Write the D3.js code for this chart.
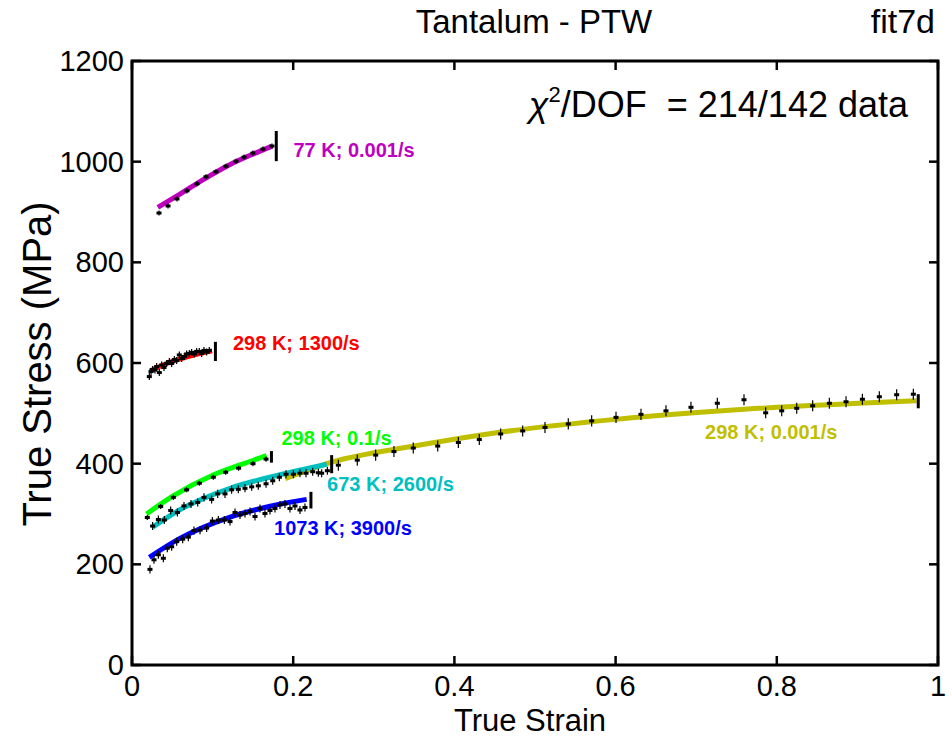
<!DOCTYPE html>
<html><head><meta charset="utf-8">
<script src="https://cdn.jsdelivr.net/npm/d3@7"></script>
<style>html,body{margin:0;padding:0;background:#fff;}text{font-family:"Liberation Sans",Arial,sans-serif;}</style>
</head><body><svg id="c" width="952" height="739"></svg>
<script>
// ---- tick labels ----
const xTicks = [0, 0.2, 0.4, 0.6, 0.8, 1];
const xTickLabels = ["0", "0.2", "0.4", "0.6", "0.8", "1"];
const yTicks = [0, 200, 400, 600, 800, 1000, 1200];
const yTickLabels = ["0", "200", "400", "600", "800", "1000", "1200"];

// ---- series labels and colours ----
const seriesNames = ["77 K; 0.001/s", "298 K; 1300/s", "298 K; 0.1/s", "673 K; 2600/s", "1073 K; 3900/s", "298 K; 0.001/s"];
const seriesColors = ["#bf00bf", "#ff0000", "#00ff00", "#00bfbf", "#0000ff", "#bfbf00"];

// ---- 77 K; 0.001/s ----
const magFitStrain = [0.032, 0.06, 0.09, 0.12, 0.15, 0.174];
const magFitStress = [909, 936, 966, 993, 1015, 1031];
const magDataStrain = [0.0335, 0.0447, 0.0558, 0.0682, 0.0806, 0.0918, 0.1042, 0.1166, 0.129, 0.139, 0.150, 0.1625, 0.1737];
const magDataStress = [898, 912, 926, 942, 956, 970, 980, 991, 1001, 1009, 1017, 1025, 1031];

// ---- 298 K; 1300/s ----
const redFitStrain = [0.0223, 0.04, 0.06, 0.08, 0.0993];
const redFitStress = [584, 597, 608, 617, 624];
const redDataStrain = [0.0215, 0.0236, 0.0256, 0.0285, 0.0306, 0.0339, 0.0368, 0.0397, 0.043, 0.0463, 0.0492, 0.0525, 0.0554, 0.0587, 0.0616, 0.0649, 0.0678, 0.0711, 0.074, 0.0773, 0.0802, 0.0835, 0.0864, 0.0893, 0.0926, 0.0959];
const redDataStress = [573, 583, 587, 586, 593, 581, 596, 591, 599, 603, 599, 607, 605, 616, 609, 613, 618, 619, 621, 618, 623, 623, 619, 625, 622, 625];

// ---- 298 K; 0.1/s ----
const grnFitStrain = [0.018, 0.05, 0.1, 0.135, 0.167];
const grnFitStress = [300, 335, 377, 398, 416];
const grnDataStrain = [0.019, 0.0356, 0.0513, 0.0678, 0.0835, 0.1009, 0.1162, 0.1323, 0.1501, 0.1663];
const grnDataStress = [293, 315, 333, 348, 361, 373, 383, 391, 400, 409];

// ---- 673 K; 2600/s ----
const cyaFitStrain = [0.0256, 0.06, 0.1216, 0.1836, 0.2415];
const cyaFitStress = [274, 309, 351, 378, 399];
const cyaDataStrain = [0.0256, 0.0327, 0.0401, 0.048, 0.0563, 0.0645, 0.0732, 0.0815, 0.0893, 0.0988, 0.1063, 0.1154, 0.1236, 0.1319, 0.1402, 0.1485, 0.1567, 0.1663, 0.1746, 0.1828, 0.1911, 0.2002, 0.2084, 0.2159, 0.2242, 0.2312, 0.2353, 0.2424];
const cyaDataStress = [276, 289, 288, 307, 303, 316, 320, 323, 333, 329, 340, 340, 348, 349, 351, 354, 356, 360, 366, 373, 379, 379, 381, 381, 384, 382, 381, 386];

// ---- 1073 K; 3900/s ----
const bluFitStrain = [0.0215, 0.06, 0.12, 0.17, 0.2167];
const bluFitStress = [214, 252, 293, 315, 329];
const bluDataStrain = [0.0223, 0.0273, 0.0327, 0.0389, 0.0438, 0.0492, 0.0554, 0.0629, 0.0699, 0.0769, 0.0844, 0.0926, 0.0997, 0.1071, 0.1146, 0.1216, 0.1278, 0.134, 0.1402, 0.1464, 0.1526, 0.1588, 0.165, 0.1712, 0.1774, 0.1836, 0.1898, 0.196, 0.2022, 0.2084, 0.2146];
const bluDataStress = [190, 209, 219, 212, 232, 235, 245, 250, 254, 267, 268, 272, 286, 288, 288, 285, 303, 298, 301, 305, 295, 311, 301, 307, 311, 318, 320, 311, 316, 308, 313];

// ---- 298 K; 0.001/s ----
const olvFitStrain = [0.19, 0.25, 0.35, 0.45, 0.6, 0.76, 0.9735];
const olvFitStress = [370, 404, 435, 461, 488, 508, 525];
const olvDataStrain = [0.256, 0.2795, 0.3023, 0.325, 0.349, 0.3793, 0.4049, 0.4309, 0.4574, 0.4847, 0.5124, 0.5413, 0.5703, 0.6005, 0.6315, 0.6625, 0.6935, 0.7262, 0.7593, 0.7862, 0.8061, 0.8247, 0.8445, 0.8652, 0.8859, 0.9062, 0.9272, 0.9487, 0.9694];
const olvDataStress = [397, 407, 417, 424, 431, 435, 442, 448, 459, 465, 472, 479, 485, 492, 498, 505, 512, 520, 527, 501, 505, 510, 515, 520, 523, 528, 533, 537, 538];

// ---- error bar half-widths (MPa) ----
const errorHalf = [5, 7, 5, 8, 8, 11];
// ---- end markers: strain, low stress, high stress ----
const markerStrain = [0.179, 0.1035, 0.173, 0.2477, 0.222, 0.9755];
const markerLow = [1001, 604, 402, 381, 311, 510];
const markerHigh = [1061, 642, 425, 417, 344, 538];
// ---- label anchors (strain, stress at baseline) ----
const labelStrain = [0.2003, 0.1253, 0.1855, 0.2420, 0.1762, 0.7110];
const labelStress = [1009, 626, 437, 346, 258, 450];

const fitsX = [magFitStrain, redFitStrain, grnFitStrain, cyaFitStrain, bluFitStrain, olvFitStrain];
const fitsY = [magFitStress, redFitStress, grnFitStress, cyaFitStress, bluFitStress, olvFitStress];
const dataX = [magDataStrain, redDataStrain, grnDataStrain, cyaDataStrain, bluDataStrain, olvDataStrain];
const dataY = [magDataStress, redDataStress, grnDataStress, cyaDataStress, bluDataStress, olvDataStress];

const series = seriesNames.map((n, i) => ({
  name: n, color: seriesColors[i],
  fit: fitsX[i].map((x, j) => [x, fitsY[i][j]]),
  data: dataX[i].map((x, j) => [x, dataY[i][j]]),
  err: errorHalf[i], mx: markerStrain[i], mlo: markerLow[i], mhi: markerHigh[i],
  lx: labelStrain[i], ly: labelStress[i]
}));

const L = 132, R = 938, T = 61, B = 665;
const svg = d3.select("#c");
const x = d3.scaleLinear().domain([0, 1]).range([L, R]);
const y = d3.scaleLinear().domain([0, 1200]).range([B, T]);

// draw order: olive below cyan
const order = [5, 0, 1, 2, 3, 4];
const line = d3.line().x(d => x(d[0])).y(d => y(d[1])).curve(d3.curveMonotoneX);
const g = svg.append("g");
order.forEach(i => {
  const s = series[i];
  g.append("path").attr("d", line(s.fit)).attr("fill", "none")
    .attr("stroke", s.color).attr("stroke-width", 5).attr("stroke-linecap", "butt");
});
order.forEach(i => {
  const s = series[i];
  const pg = g.append("g");
  s.data.forEach(d => {
    pg.append("line").attr("x1", x(d[0])).attr("x2", x(d[0]))
      .attr("y1", y(d[1] - s.err)).attr("y2", y(d[1] + s.err))
      .attr("stroke", "#000").attr("stroke-width", 1.2);
    pg.append("rect").attr("x", x(d[0]) - 2.5).attr("y", y(d[1]) - 1.5)
      .attr("width", 5).attr("height", 3).attr("fill", "#000");
  });
  g.append("line").attr("x1", x(s.mx)).attr("x2", x(s.mx))
    .attr("y1", y(s.mlo)).attr("y2", y(s.mhi))
    .attr("stroke", "#000").attr("stroke-width", 3);
  g.append("text").attr("x", x(s.lx)).attr("y", y(s.ly))
    .attr("fill", s.color).attr("font-size", 20).attr("font-weight", "bold").text(s.name);
});

// axes (box with inward ticks)
const tickLen = 9;
const ax = svg.append("g");
ax.append("rect").attr("x", L).attr("y", T).attr("width", R - L).attr("height", B - T)
  .attr("fill", "none").attr("stroke", "#000").attr("stroke-width", 3);
xTicks.forEach((t, i) => {
  ax.append("line").attr("x1", x(t)).attr("x2", x(t)).attr("y1", B).attr("y2", B - tickLen).attr("stroke", "#000").attr("stroke-width", 2.5);
  ax.append("line").attr("x1", x(t)).attr("x2", x(t)).attr("y1", T).attr("y2", T + tickLen).attr("stroke", "#000").attr("stroke-width", 2.5);
  ax.append("text").attr("x", x(t)).attr("y", B + 31).attr("text-anchor", "middle").attr("font-size", 29).text(xTickLabels[i]);
});
yTicks.forEach((t, i) => {
  ax.append("line").attr("x1", L).attr("x2", L + tickLen).attr("y1", y(t)).attr("y2", y(t)).attr("stroke", "#000").attr("stroke-width", 2.5);
  ax.append("line").attr("x1", R).attr("x2", R - tickLen).attr("y1", y(t)).attr("y2", y(t)).attr("stroke", "#000").attr("stroke-width", 2.5);
  ax.append("text").attr("x", L - 8).attr("y", y(t) + 10).attr("text-anchor", "end").attr("font-size", 29).text(yTickLabels[i]);
});

svg.append("text").attr("x", 530).attr("y", 731).attr("text-anchor", "middle").attr("font-size", 31).text("True Strain");
svg.append("text").attr("transform", "translate(51,364) rotate(-90)").attr("text-anchor", "middle").attr("font-size", 40).text("True Stress (MPa)");
svg.append("text").attr("x", 534).attr("y", 33).attr("text-anchor", "middle").attr("font-size", 33).text("Tantalum - PTW");
svg.append("text").attr("x", 935).attr("y", 33).attr("text-anchor", "end").attr("font-size", 34).text("fit7d");
const chi = svg.append("text").attr("x", 908).attr("y", 117).attr("text-anchor", "end").attr("font-size", 36);
chi.append("tspan").attr("font-style", "italic").text("χ");
chi.append("tspan").attr("font-size", 22).attr("dy", -15).text("2");
chi.append("tspan").attr("dy", 15).text("/DOF\u00a0\u00a0= 214/142 data");
</script></body></html>
